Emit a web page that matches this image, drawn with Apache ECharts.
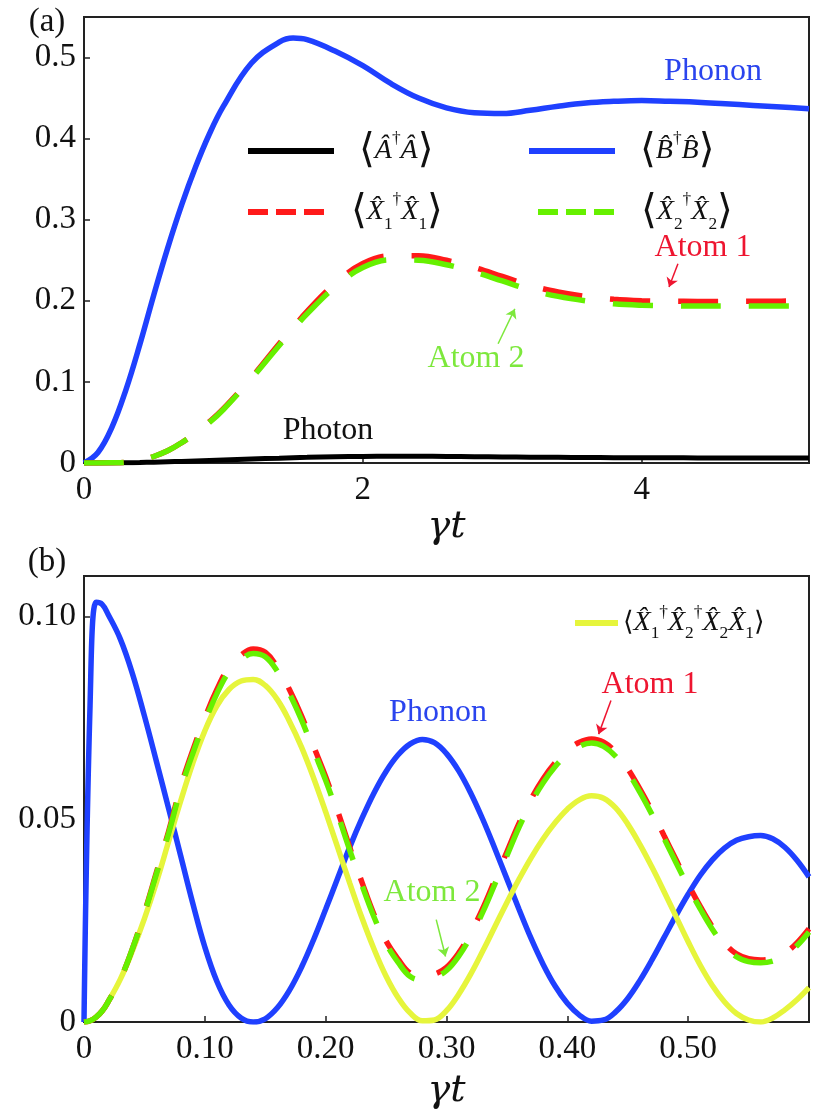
<!DOCTYPE html>
<html>
<head>
<meta charset="utf-8">
<script src="https://cdn.jsdelivr.net/npm/echarts/dist/echarts.min.js"></script>
<style>
  html, body { margin: 0; background: #fff; }
  #main { width: 830px; height: 1114px; }
</style>
</head>
<body>
<div id="main"></div>
<script>
// panel (a): time grid and populations
const tTop = [0, 0.1, 0.2, 0.3, 0.4, 0.5, 0.6, 0.7, 0.8, 0.9, 1.0,
  1.2, 1.4, 1.5, 1.6, 1.8, 2.0, 2.2, 2.4, 2.6, 2.8, 3.0, 3.2, 3.4, 3.6, 3.8,
  4.0, 4.2, 4.4, 4.6, 4.8, 5.0, 5.2];
const phononTop = [0, 0.013, 0.044, 0.09, 0.146, 0.207, 0.265, 0.318, 0.365, 0.406, 0.44,
  0.493, 0.519, 0.524, 0.522, 0.508, 0.490, 0.468, 0.450, 0.438, 0.432, 0.431, 0.435, 0.440, 0.444, 0.446,
  0.447, 0.446, 0.445, 0.443, 0.441, 0.439, 0.437];
const photonTop = [0, 0, 0.0001, 0.0003, 0.0006, 0.001, 0.0015, 0.002, 0.0026, 0.0032, 0.0038,
  0.005, 0.006, 0.0066, 0.007, 0.0077, 0.0081, 0.0083, 0.0083, 0.0081, 0.0078, 0.0075, 0.0072, 0.007, 0.0068, 0.0066,
  0.0065, 0.0064, 0.0063, 0.0063, 0.0062, 0.0062, 0.0062];
const atom1Top = [0, 0, 0.0002, 0.0008, 0.003, 0.008, 0.015, 0.025, 0.037, 0.051, 0.067,
  0.105, 0.147, 0.167, 0.187, 0.221, 0.246, 0.2555, 0.2555, 0.250, 0.241, 0.230, 0.219, 0.211, 0.2055, 0.2018,
  0.200, 0.1995, 0.1993, 0.1993, 0.1994, 0.1996, 0.1997];
const atom2Top = [0, 0, 0.0002, 0.0008, 0.003, 0.008, 0.015, 0.025, 0.037, 0.050, 0.066,
  0.104, 0.145, 0.165, 0.184, 0.217, 0.241, 0.2505, 0.250, 0.2445, 0.2355, 0.2245, 0.2135, 0.2055, 0.200, 0.1963,
  0.1945, 0.1938, 0.1935, 0.1935, 0.1936, 0.1937, 0.1938];

// panel (b)
const tBot = [0, 0.005, 0.01, 0.015, 0.02, 0.03, 0.04, 0.05, 0.06, 0.07, 0.08, 0.09,
  0.10, 0.11, 0.12, 0.13, 0.14, 0.15, 0.16, 0.17, 0.18, 0.19,
  0.20, 0.21, 0.22, 0.23, 0.24, 0.25, 0.26, 0.27, 0.28, 0.29,
  0.30, 0.31, 0.32, 0.33, 0.34, 0.35, 0.36, 0.37, 0.38, 0.39,
  0.40, 0.41, 0.42, 0.43, 0.44, 0.45, 0.46, 0.47, 0.48, 0.49,
  0.50, 0.51, 0.52, 0.53, 0.54, 0.55, 0.56, 0.57, 0.58, 0.59, 0.60];
const phononBot = [0, 0.078, 0.1035, 0.103, 0.1005, 0.0945, 0.086, 0.0755, 0.0642, 0.0527, 0.041, 0.0293,
  0.0185, 0.010, 0.0042, 0.001, 0, 0.0008, 0.0035, 0.0078, 0.0135, 0.0203,
  0.0278, 0.0355, 0.0432, 0.0502, 0.0565, 0.0618, 0.0659, 0.0686, 0.0697, 0.0689,
  0.0662, 0.062, 0.0565, 0.05, 0.0428, 0.0353, 0.0278, 0.0206, 0.0142, 0.0088,
  0.0046, 0.0017, 0.0002, 0.0005, 0.0025, 0.0058, 0.0102, 0.0153, 0.0208, 0.0263,
  0.0315, 0.0362, 0.04, 0.0429, 0.0448, 0.0457, 0.046, 0.0452, 0.0431, 0.0399, 0.0358];
const atom1Bot = [0, 0.0003, 0.0012, 0.0027, 0.005, 0.0105, 0.018, 0.027, 0.037, 0.047, 0.058, 0.067,
  0.075, 0.082, 0.0875, 0.0905, 0.092, 0.0912, 0.0875, 0.082, 0.0755, 0.068,
  0.0605, 0.052, 0.043, 0.0345, 0.0265, 0.020, 0.0155, 0.012, 0.0112, 0.0118,
  0.0135, 0.017, 0.022, 0.028, 0.035, 0.042, 0.049, 0.055, 0.060, 0.064,
  0.067, 0.069, 0.0698, 0.069, 0.0665, 0.0625, 0.0575, 0.052, 0.046, 0.040,
  0.034, 0.0285, 0.0235, 0.0195, 0.0168, 0.0156, 0.0153, 0.0157, 0.017, 0.0195, 0.023];
const atom2Bot = [0, 0.0003, 0.0012, 0.0027, 0.005, 0.0105, 0.018, 0.0268, 0.0366, 0.0465, 0.0573, 0.0662,
  0.0741, 0.081, 0.0864, 0.0894, 0.0909, 0.0901, 0.0865, 0.081, 0.0745, 0.067,
  0.0596, 0.0512, 0.0423, 0.0338, 0.0259, 0.0194, 0.0147, 0.0112, 0.0104, 0.011,
  0.0127, 0.0162, 0.0211, 0.0271, 0.034, 0.041, 0.048, 0.054, 0.059, 0.063,
  0.066, 0.068, 0.0688, 0.068, 0.0655, 0.0616, 0.0567, 0.0512, 0.0453, 0.0393,
  0.0334, 0.0279, 0.0229, 0.0189, 0.0161, 0.0149, 0.0146, 0.015, 0.0163, 0.0188, 0.0222];
const pairBot = [0, 0.0003, 0.0012, 0.0027, 0.005, 0.0105, 0.0175, 0.0255, 0.0345, 0.0445, 0.0545, 0.0638,
  0.0718, 0.078, 0.082, 0.0841, 0.0845, 0.083, 0.0795, 0.0742, 0.0678, 0.0602,
  0.0518, 0.043, 0.0342, 0.0257, 0.018, 0.0113, 0.006, 0.0022, 0.0003, 0.0005,
  0.0028, 0.0068, 0.0118, 0.0175, 0.0235, 0.0295, 0.0352, 0.0405, 0.0452, 0.0492,
  0.0525, 0.0548, 0.0558, 0.0552, 0.0528, 0.0488, 0.0438, 0.0382, 0.0322, 0.026,
  0.0198, 0.014, 0.009, 0.005, 0.0021, 0.0005, 0, 0.001, 0.003, 0.0055, 0.0085];

const zip = (xs, ys) => xs.map((x, i) => [x, ys[i]]);

const BLUE = '#1f40ff', RED = '#ff1a1a', GREEN = '#66f000', YELLOW = '#e6f53c';
const SERIF = 'Liberation Serif';
const DASH = [40, 28];

const legendRich = (size, lh) => ({
  bl: { fontFamily: 'DejaVu Serif', fontSize: size * 1.45, lineHeight: lh, padding: [0, 0, 0, 20], color: '#111' },
  br: { fontFamily: 'DejaVu Serif', fontSize: size * 1.45, lineHeight: lh, color: '#111' },
  b: { fontFamily: 'DejaVu Serif', fontSize: size * 1.05, lineHeight: lh, color: '#111' },
  i: { fontFamily: SERIF, fontStyle: 'italic', fontSize: size, lineHeight: lh, color: '#111' },
  sp: { fontFamily: SERIF, fontSize: size * 0.62, lineHeight: lh * 0.72, verticalAlign: 'top', color: '#111' },
  sb: { fontFamily: SERIF, fontSize: size * 0.62, lineHeight: lh * 0.62, verticalAlign: 'bottom', color: '#111' }
});
const labels = {
  A: '{bl|⟨}{i|Â}{sp|†}{i|Â}{br|⟩}',
  B: '{bl|⟨}{i|B\u0302}{sp|†}{i|B\u0302}{br|⟩}',
  X1: '{bl|⟨}{i|X\u0302}{sb|1}{sp|†}{i|X\u0302}{sb|1}{br|⟩}',
  X2: '{bl|⟨}{i|X\u0302}{sb|2}{sp|†}{i|X\u0302}{sb|2}{br|⟩}',
  X12: '{b|⟨}{i|X\u0302}{sb|1}{sp|†}{i|X\u0302}{sb|2}{sp|†}{i|X\u0302}{sb|2}{i|X\u0302}{sb|1}{b|⟩}'
};

function legend(name, left, top, width, dash, size, lh) {
  return {
    data: [name], left: left, top: top, padding: 0, itemWidth: width, itemHeight: 14,
    selectedMode: false,
    itemStyle: { color: 'rgba(0,0,0,0)', borderWidth: 0 },
    lineStyle: { width: 6, type: dash || 'solid' },
    formatter: n => labels[n],
    textStyle: { rich: legendRich(size || 28, lh || 42) }
  };
}

const axisLabelFont = { fontFamily: SERIF, fontSize: 33, color: '#111' };
const frameAxis = { show: true, lineStyle: { color: '#222', width: 2 } };
const tick = { inside: true, length: 6, lineStyle: { color: '#222', width: 1.5 } };
const nameFont = { fontFamily: 'DejaVu Serif', fontStyle: 'italic', fontSize: 38, color: '#111' };

const arrow = (from, to, color) => ({
  silent: true, symbol: ['none', 'arrow'], symbolSize: 9, animation: false,
  label: { show: false },
  lineStyle: { color: color, width: 1.5, type: 'solid' },
  data: [[{ coord: from }, { coord: to }]]
});

const note = (text, x, y, color) => ({
  type: 'text', x: x, y: y,
  style: { text: text, fill: color, font: '32px "Liberation Serif"', align: 'center', verticalAlign: 'middle' }
});

const line = (name, xs, ys, color, grid, extra) => Object.assign({
  name: name, type: 'line', data: zip(xs, ys), xAxisIndex: grid, yAxisIndex: grid,
  symbol: 'none', smooth: 0.4, animation: false,
  lineStyle: { color: color, width: 5.5 }, itemStyle: { color: color }
}, extra || {});

const chart = echarts.init(document.getElementById('main'));
chart.setOption({
  backgroundColor: '#fff',
  grid: [
    { left: 84, right: 21, top: 17, height: 446, show: true, borderColor: '#222', borderWidth: 2 },
    { left: 84, right: 21, top: 576, height: 446, show: true, borderColor: '#222', borderWidth: 2 }
  ],
  xAxis: [
    {
      type: 'value', gridIndex: 0, min: 0, max: 5.2, interval: 2,
      name: 'γt', nameLocation: 'middle', nameGap: 40, nameTextStyle: nameFont,
      axisLine: frameAxis, axisTick: tick, splitLine: { show: false },
      axisLabel: Object.assign({ margin: 11, showMaxLabel: false, formatter: v => String(v) }, axisLabelFont)
    },
    {
      type: 'value', gridIndex: 1, min: 0, max: 0.6, interval: 0.1,
      name: 'γt', nameLocation: 'middle', nameGap: 50, nameTextStyle: nameFont,
      axisLine: frameAxis, axisTick: tick, splitLine: { show: false },
      axisLabel: Object.assign({ margin: 11, showMaxLabel: false,
        formatter: v => v === 0 ? '0' : v.toFixed(2) }, axisLabelFont)
    }
  ],
  yAxis: [
    {
      type: 'value', gridIndex: 0, min: 0, max: 0.55, interval: 0.1,
      axisLine: frameAxis, axisTick: tick, splitLine: { show: false },
      axisLabel: Object.assign({ showMaxLabel: false,
        formatter: v => v === 0 ? '0' : v.toFixed(1) }, axisLabelFont)
    },
    {
      type: 'value', gridIndex: 1, min: 0, max: 0.11, interval: 0.05,
      axisLine: frameAxis, axisTick: tick, splitLine: { show: false },
      axisLabel: Object.assign({ showMaxLabel: false,
        formatter: v => v === 0 ? '0' : v.toFixed(2) }, axisLabelFont)
    }
  ],
  legend: [
    legend('A', 245, 130, 86),
    legend('B', 526, 130, 86),
    legend('X1', 245, 191, 78, [20, 8]),
    legend('X2', 535, 191, 78, [20, 8]),
    Object.assign(legend('X12', 572, 604, 43, null, 28, 38), {
      textStyle: { rich: Object.assign(legendRich(28, 38), {
        b: { fontFamily: 'DejaVu Serif', fontSize: 27, lineHeight: 38, color: '#111' }
      }) }
    })
  ],
  graphic: [
    { type: 'text', x: 47, y: 22, style: { text: '(a)', fill: '#111', font: '33px "Liberation Serif"', align: 'center', verticalAlign: 'middle' } },
    { type: 'text', x: 47, y: 562, style: { text: '(b)', fill: '#111', font: '33px "Liberation Serif"', align: 'center', verticalAlign: 'middle' } },
    note('Phonon', 713, 72, '#2a44ee'),
    note('Atom 1', 703, 248, '#ee1530'),
    note('Atom 2', 476, 359, '#7de83c'),
    note('Photon', 328, 431, '#111'),
    note('Phonon', 438, 713, '#2a44ee'),
    note('Atom 1', 650, 685, '#ee1530'),
    note('Atom 2', 432, 893, '#7de83c')
  ],
  series: [
    line('B', tTop, phononTop, BLUE, 0),
    line('A', tTop, photonTop, '#000', 0, { lineStyle: { color: '#000', width: 5 } }),
    line('X1', tTop, atom1Top, RED, 0, {
      lineStyle: { color: RED, width: 5.5, type: DASH },
      markLine: arrow([4.26, 0.2457], [4.196, 0.217], '#ee1530')
    }),
    line('X2', tTop, atom2Top, GREEN, 0, {
      lineStyle: { color: GREEN, width: 5.5, type: DASH },
      markLine: arrow([2.97, 0.147], [3.09, 0.19], '#7de83c')
    }),
    line('Bb', tBot, phononBot, BLUE, 1),
    line('X12', tBot, pairBot, YELLOW, 1),
    line('X1b', tBot, atom1Bot, RED, 1, {
      lineStyle: { color: RED, width: 5.5, type: DASH },
      markLine: arrow([0.4361, 0.0793], [0.4259, 0.071], '#ee1530')
    }),
    line('X2b', tBot, atom2Bot, GREEN, 1, {
      lineStyle: { color: GREEN, width: 5.5, type: DASH },
      markLine: arrow([0.2915, 0.02525], [0.2992, 0.01616], '#7de83c')
    })
  ]
});
</script>
</body>
</html>
